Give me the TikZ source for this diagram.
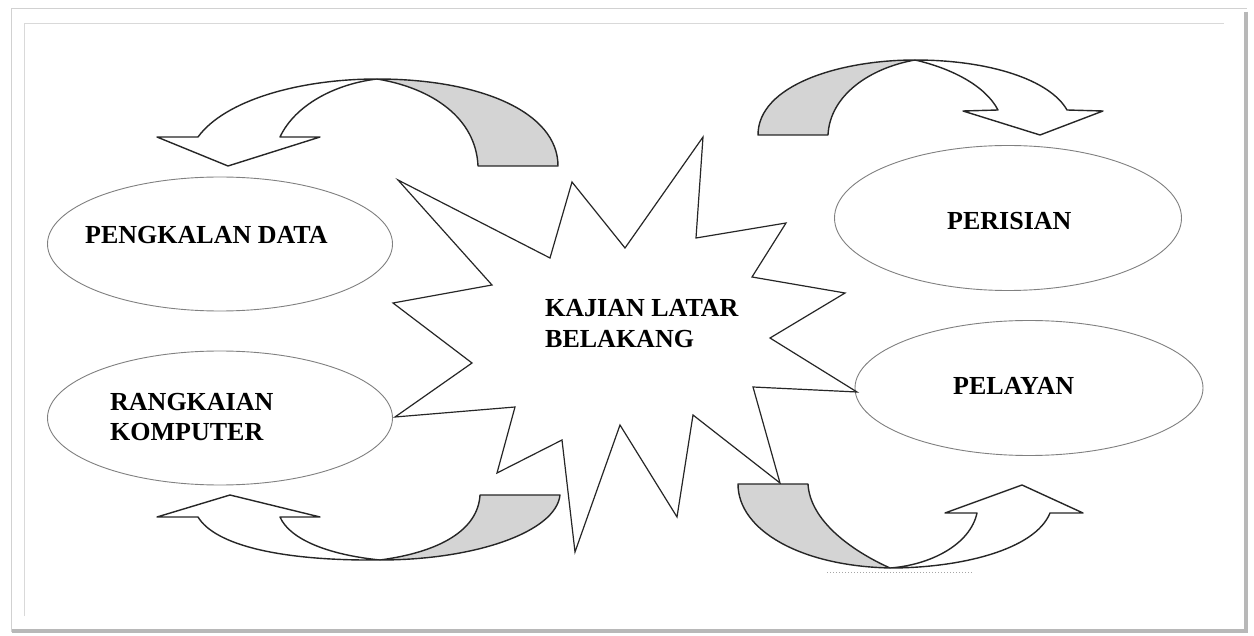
\documentclass[tikz,border=0pt]{standalone}
\usepackage{fontspec}
\setmainfont{Liberation Serif}
\usetikzlibrary{shapes.geometric}
\begin{document}
\begin{tikzpicture}[x=1pt,y=-1pt,
  band/.style={draw=black!85,line width=1.4pt,line join=round},
  backband/.style={band,fill=black!17},
  frontband/.style={band,fill=white},
  oval/.style={draw=black!50,line width=0.9pt,fill=white,ellipse,inner sep=0},
  lbl/.style={font=\bfseries\fontsize{26}{29}\selectfont,anchor=base west,inner sep=0}]
\useasboundingbox (0,0) rectangle (1254,636);
% frame
\fill[white] (0,0) rectangle (1254,636);
\draw[black!18,line width=1pt] (11,632) -- (11,9) -- (1247,9);
\draw[black!28,line width=4pt] (1246,12) -- (1246,631) -- (12,631);
\draw[black!15,line width=1pt] (24,616) -- (24,24) -- (1224,24);
% ellipses
\node[oval,minimum width=345pt,minimum height=134pt] (e1) at (220,244) {};
\node[oval,minimum width=345pt,minimum height=134pt] (e2) at (220,418) {};
\node[oval,minimum width=347pt,minimum height=145pt] (e3) at (1008,218) {};
\node[oval,minimum width=348pt,minimum height=135pt] (e4) at (1029,388) {};
% star
\coordinate (sc) at (625,345);
\draw[draw=black!85,line width=1.2pt,fill=white,line join=miter]
 (398,180) -- (550,258) -- (572,182) -- (625,248) -- (703,137) -- (696,238)
 -- (786,223) -- (752,277) -- (845,293) -- (770,338) -- (857,392) -- (753,387)
 -- (780,483) -- (693,415) -- (677,517) -- (620,425) -- (575,552) -- (562,440)
 -- (497,473) -- (515,407) -- (395,417) -- (472,363) -- (393,303) -- (492,285) -- cycle;
% top-left curved arrow
\coordinate (p1) at (377,79);
\draw[backband] (558,166) .. controls (558,112) and (480,79) .. (p1)
  .. controls (432,88) and (476,118) .. (478,166) -- cycle;
\draw[frontband] (p1) .. controls (300,79) and (225,100) .. (198,137)
  -- (157,137) -- (228,166) -- (320,137) -- (280,137)
  .. controls (295,105) and (335,84) .. (p1) -- cycle;
% top-right curved arrow
\coordinate (p2) at (915,60);
\draw[backband] (758,135) .. controls (758,85) and (840,60) .. (p2)
  .. controls (870,68) and (830,95) .. (828,135) -- cycle;
\draw[frontband] (p2) .. controls (990,60) and (1050,80) .. (1067,110)
  -- (1103,111) -- (1040,135) -- (963,111) -- (998,110)
  .. controls (985,85) and (950,68) .. (p2) -- cycle;
% bottom-left curved arrow
\coordinate (p3) at (380,560);
\draw[backband] (560,495) .. controls (556,532) and (475,560) .. (p3)
  .. controls (440,552) and (478,530) .. (480,495) -- cycle;
\draw[frontband] (p3) .. controls (280,561) and (215,545) .. (198,517)
  -- (157,517) -- (230,495) -- (320,517) -- (280,517)
  .. controls (290,540) and (330,555) .. (p3) -- cycle;
% bottom-right curved arrow
\coordinate (p4) at (890,568);
\draw[backband] (738,484) .. controls (738,530) and (800,566) .. (p4)
  .. controls (850,550) and (810,520) .. (808,484) -- cycle;
\draw[frontband] (p4) .. controls (960,568) and (1035,550) .. (1050,513)
  -- (1083,513) -- (1022,485) -- (945,513) -- (977,513)
  .. controls (970,545) and (930,565) .. (p4) -- cycle;
\draw[black!35,line width=1pt,dotted] (827,572) -- (972,572);
% labels
\node[lbl] (t1) at (85,244) {PENGKALAN DATA};
\node[lbl] (t2a) at (110,411) {RANGKAIAN};
\node[lbl] (t2b) at (110,440) {KOMPUTER};
\node[lbl] (t3) at (947,230) {PERISIAN};
\node[lbl] (t4) at (953,395) {PELAYAN};
\node[lbl] (t5a) at (545,317) {KAJIAN LATAR};
\node[lbl] (t5b) at (545,348) {BELAKANG};
\end{tikzpicture}
\end{document}
